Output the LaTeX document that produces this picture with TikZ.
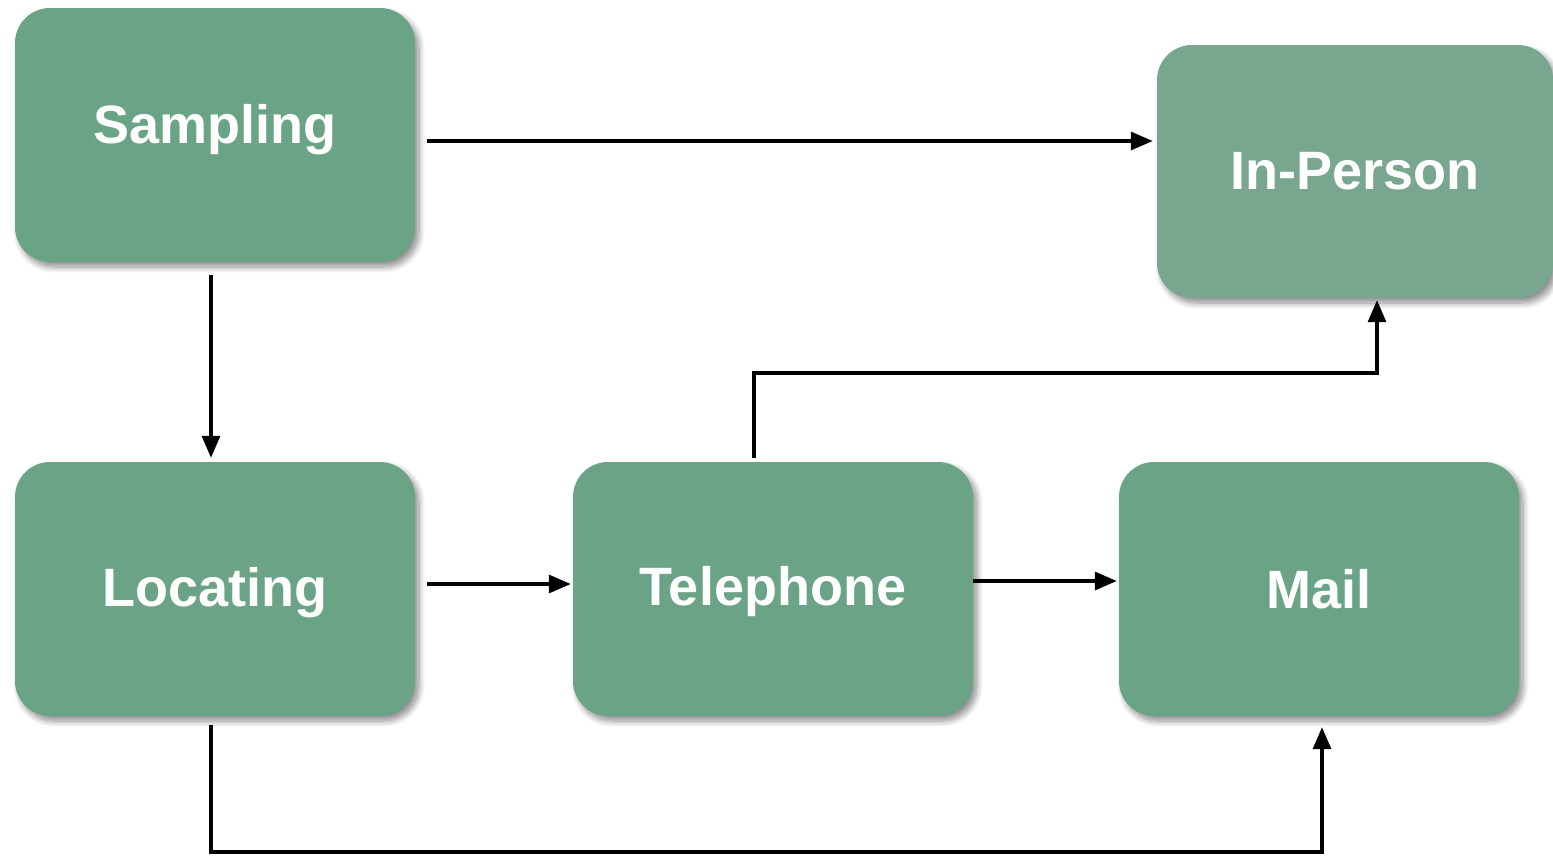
\documentclass[tikz,border=0pt]{standalone}
\usepackage{fontspec}
\setmainfont{Liberation Sans}
\usetikzlibrary{arrows.meta,shadows.blur,calc}
\definecolor{boxgreen}{HTML}{6BA386}
\definecolor{boxlight}{HTML}{79A68E}
\newcommand{\shifttext}[2]{\raisebox{#1}[\height][\depth]{#2}}
\begin{document}
\begin{tikzpicture}[x=1pt,y=-1pt,
  box/.style={fill=boxgreen, draw=none, rounded corners=35pt, minimum width=400pt, minimum height=254pt,
    text=white, font=\bfseries\fontsize{54}{60}\selectfont, inner sep=0pt,
    blur shadow={shadow xshift=4pt, shadow yshift=-5pt, shadow blur radius=6pt, shadow blur steps=10, shadow opacity=45}},
  conn/.style={line width=3.2pt, -{Triangle[length=22pt,width=18pt]}}]
\useasboundingbox (0,0) rectangle (1553,855);
\node[box] (S) at (215,135) {\shifttext{5pt}{Sampling}};
\node[box, fill=boxlight, minimum width=396pt, minimum height=253pt] (IP) at (1355,171.5) {In-Person};
\node[box] (L) at (215,589) {\shifttext{-4pt}{Locating}};
\node[box] (T) at (773,589) {\shifttext{-3pt}{Telephone}};
\node[box] (M) at (1319,589) {Mail};
\coordinate (tturn) at (754,373);
\coordinate (lturn) at (211,852);
\draw[conn] ([xshift=12pt,yshift=-6pt]S.east) -- ([xshift=-4pt,yshift=-6pt]S.east -| IP.west);
\draw[conn] ([xshift=-4pt,yshift=-13pt]S.south) -- ([xshift=-4pt,yshift=4pt]L.north);
\draw[conn] ([xshift=12pt,yshift=5pt]L.east) -- ([xshift=-2pt,yshift=5pt]L.east -| T.west);
\draw[conn] ([yshift=8pt]T.east) -- ([xshift=-2pt,yshift=8pt]T.east -| M.west);
\draw[conn] ([xshift=-19pt,yshift=4pt]T.north) |- (tturn) -| ([xshift=22pt,yshift=-2pt]IP.south);
\draw[conn] ([xshift=-4pt,yshift=-9pt]L.south) |- (lturn) -| ([xshift=3pt,yshift=-11pt]M.south);
\end{tikzpicture}
\end{document}
